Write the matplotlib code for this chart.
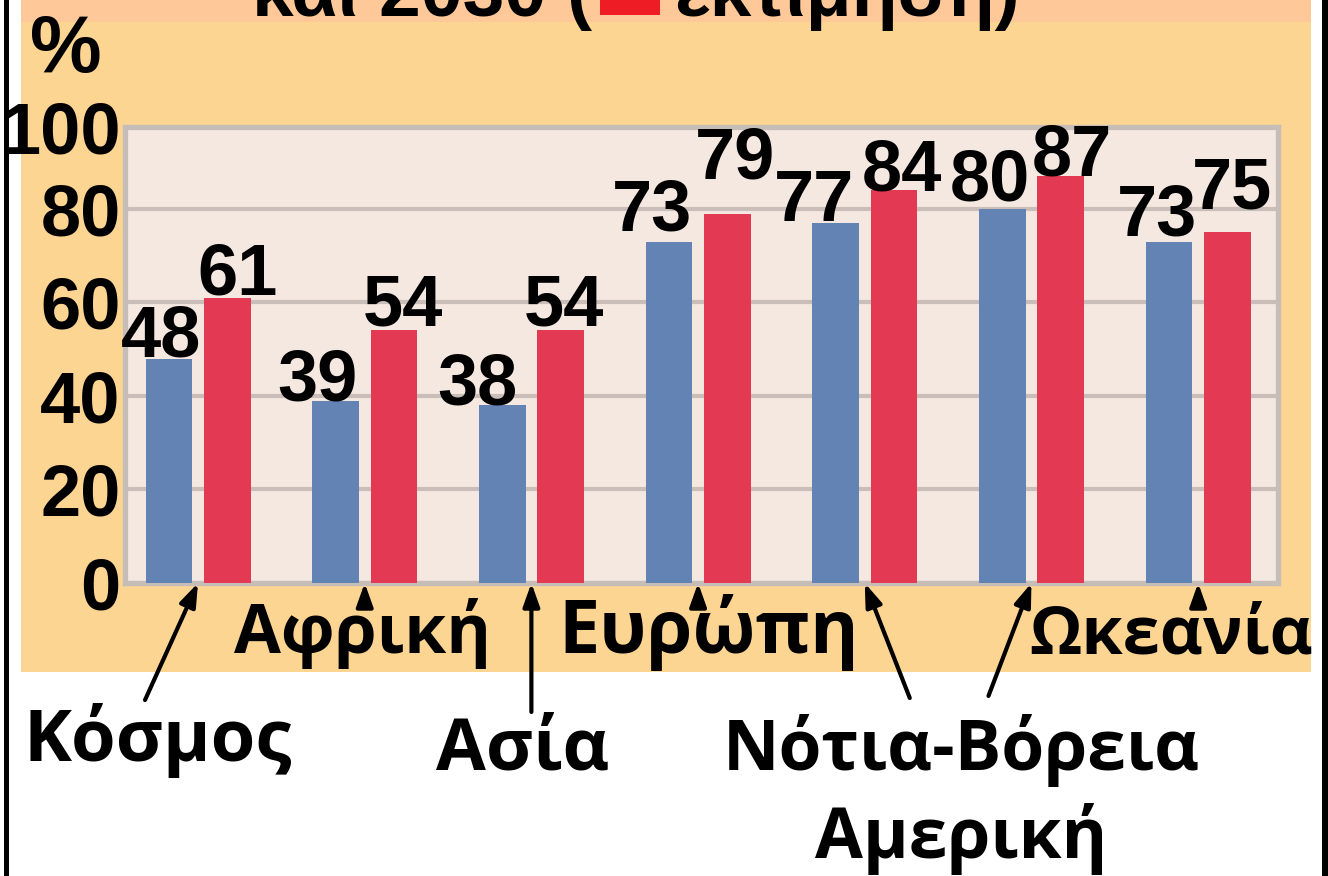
import numpy as np
import matplotlib
matplotlib.use("Agg")
import matplotlib.pyplot as plt
from matplotlib.patches import Rectangle

# ---------------- data ----------------
categories = ["Κόσμος", "Αφρική", "Ασία", "Ευρώπη",
              "Νότια Αμερική", "Βόρεια Αμερική", "Ωκεανία"]
values_2007 = [48, 39, 38, 73, 77, 80, 73]
values_2030 = [61, 54, 54, 79, 84, 87, 75]
y_tick_values = [0, 20, 40, 60, 80]
y_tick_labels = ["0", "20", "40", "60", "80", "100"]
title_left = "και 2030 ("
title_right = "εκτίμηση)"
unit_label = "%"

# ---------------- style ----------------
W, H = 1328, 876
BLUE = "#6283B3"
RED = "#E43953"
PLOT_BG = "#F5E8E1"
PANEL = "#FDD593"
BAND = "#FEC898"
GRID = "#C9BEB9"
FRAME = "#C6BDB8"
NUM_FONT = ["Liberation Sans", "DejaVu Sans"]
TXT_FONT = ["Open Sans", "Noto Sans", "DejaVu Sans"]

fig = plt.figure(figsize=(W / 100, H / 100), dpi=100, facecolor="white")


def fx(px):
    return px / W


def fy(py):
    return 1 - py / H


def frect(x0, y0, x1, y1, color, z=-10):
    fig.add_artist(Rectangle((fx(x0), fy(y1)), fx(x1) - fx(x0), fy(y0) - fy(y1),
                             transform=fig.transFigure, facecolor=color,
                             edgecolor="none", zorder=z))


# background panels and border lines
frect(21, 22, 1311, 672, PANEL)
frect(21, 0, 1311, 22, BAND)
frect(4, 0, 9, H, "black")
frect(1322, 0, 1328, H, "black")

# title (cut off at the top edge, as in the source)
fig.text(fx(592), fy(16), title_left, ha="right", va="baseline",
         fontsize=54, fontweight="bold", family=NUM_FONT)
frect(600, -5, 660, 15, "#EE1C25", z=5)
fig.text(fx(674), fy(16), title_right, ha="left", va="baseline",
         fontsize=54, fontweight="bold", family=NUM_FONT)

# unit label
fig.text(fx(66), fy(72), unit_label, ha="center", va="baseline",
         fontsize=58, fontweight="bold", family=NUM_FONT)

# ---------------- axes ----------------
Y_TOP = 97.5
ax = fig.add_axes([fx(125), fy(583), fx(1278) - fx(125), fy(127) - fy(583)])
ax.set_facecolor(PLOT_BG)
x = np.arange(len(categories))
bw, off = 0.28, 0.175
ax.bar(x - off, values_2007, bw, color=BLUE, zorder=3)
ax.bar(x + off, values_2030, bw, color=RED, zorder=3)
ax.set_xlim(-0.438, 6.479)
ax.set_ylim(0, Y_TOP)
ax.set_xticks([])
ax.set_yticks(y_tick_values + [Y_TOP])
ax.set_yticklabels(y_tick_labels, fontsize=52, fontweight="bold", family=NUM_FONT)
ax.tick_params(axis="y", length=0, pad=3)
ax.yaxis.grid(True, color=GRID, lw=3)
ax.set_axisbelow(True)
for sp in ax.spines.values():
    sp.set_color(FRAME)
    sp.set_linewidth(3.8)

# value labels (pixel nudges to follow the hand-placed labels)
blue_dx = [-8, -18, -25, -17, -22, -12, -12]
blue_gap = [2, 0, 1, 11, 2, 8, 6]
red_dx = [10, 9, 3, 8, 8, 11, 5]
red_gap = [3, 5, 5, 35, 0, 1, 24]
for i, v in enumerate(values_2007):
    ax.annotate(str(v), xy=(x[i] - off, v), xytext=(blue_dx[i], blue_gap[i]),
                textcoords="offset pixels", ha="center", va="baseline",
                fontsize=52, fontweight="bold", family=NUM_FONT,
                annotation_clip=False, zorder=6)
for i, v in enumerate(values_2030):
    ax.annotate(str(v), xy=(x[i] + off, v), xytext=(red_dx[i], red_gap[i]),
                textcoords="offset pixels", ha="center", va="baseline",
                fontsize=52, fontweight="bold", family=NUM_FONT,
                annotation_clip=False, zorder=6)

# category arrows (tail offsets in pixels relative to group centre at y=0)
arrow_tails = [(-53, -117), (0, -24), (0, -129), (0, -24),
               (45, -115), (-43, -113), (0, -24)]
for i, (dx, dy) in enumerate(arrow_tails):
    ax.annotate("", xy=(x[i], 0), xytext=(dx, dy), textcoords="offset pixels",
                xycoords="data", annotation_clip=False,
                arrowprops=dict(arrowstyle="-|>,head_length=1.4,head_width=0.5",
                                lw=3.0, color="black", shrinkA=0, shrinkB=0))

# category texts: (text, group, dx, dy, size)
display_labels = [("Κόσμος", 0, -40, -178, 52), ("Αφρική", 1, -2, -70, 49),
                  ("Ασία", 2, -9, -187, 52), ("Ευρώπη", 3, 11, -70, 53),
                  ("Ωκεανία", 6, -27, -70, 48)]
for txt, i, dx, dy, fs in display_labels:
    ax.annotate(txt, xy=(x[i], 0), xytext=(dx, dy), textcoords="offset pixels",
                ha="center", va="baseline", fontsize=fs, fontweight="bold",
                family=TXT_FONT, annotation_clip=False, zorder=7)
mid = (x[4] + x[5]) / 2
ax.annotate("Νότια-Βόρεια", xy=(mid, 0), xytext=(13, -187), textcoords="offset pixels",
            ha="center", va="baseline", fontsize=50, fontweight="bold",
            family=TXT_FONT, annotation_clip=False)
ax.annotate("Αμερική", xy=(mid, 0), xytext=(13, -275), textcoords="offset pixels",
            ha="center", va="baseline", fontsize=50, fontweight="bold",
            family=TXT_FONT, annotation_clip=False)

fig.savefig("out.png", dpi=100, facecolor="white")
